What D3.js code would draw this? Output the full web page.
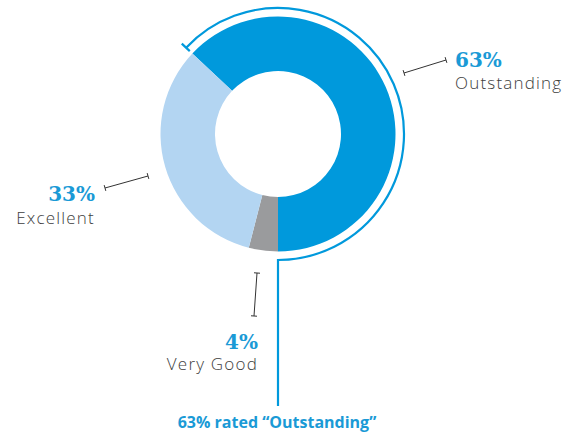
<!DOCTYPE html>
<html><head><meta charset="utf-8">
<script src="https://cdn.jsdelivr.net/npm/d3@7"></script>
<style>body{margin:0;background:#fff}svg{display:block}</style>
</head><body>
<script>
const categories = ["Outstanding", "Very Good", "Excellent"];
const values = [63, 4, 33];
const percentLabels = ["63%", "4%", "33%"];
const colors = ["#0099dc", "#9a9b9d", "#b3d5f2"];
const footnote = "63% rated \u201cOutstanding\u201d";

const W = 575, H = 433, cx = 278, cy = 134, rOuter = 117.5, rInner = 63, rBracket = 126;
const svg = d3.select("body").append("svg").attr("width", W).attr("height", H);
const g = svg.append("g").attr("transform", `translate(${cx},${cy})`);

const share0 = values[0] / d3.sum(values);
const start = Math.PI - share0 * 2 * Math.PI;
const pie = d3.pie().sort(null).value(d => d).startAngle(start).endAngle(start + 2 * Math.PI);
const arcs = pie(values);
const arc = d3.arc().innerRadius(rInner).outerRadius(rOuter);
g.selectAll("path.slice").data(arcs).join("path").attr("class", "slice")
  .attr("d", arc).attr("fill", (d, i) => colors[i]);

// bracket around Outstanding
const a0 = arcs[0].startAngle, a1 = arcs[0].endAngle;
const bp = d3.path();
bp.arc(0, 0, rBracket, a0 - Math.PI / 2, a1 - Math.PI / 2);
bp.lineTo(0, 406 - cy);
g.append("path").attr("d", bp.toString()).attr("fill", "none")
  .attr("stroke", "#0099dc").attr("stroke-width", 2.2);
g.append("line")
  .attr("x1", Math.sin(a0) * (rBracket - 5)).attr("y1", -Math.cos(a0) * (rBracket - 5))
  .attr("x2", Math.sin(a0) * (rBracket + 6)).attr("y2", -Math.cos(a0) * (rBracket + 6))
  .attr("stroke", "#0099dc").attr("stroke-width", 2.2);

// leader lines with end ticks
function leader(x1, y1, x2, y2) {
  const dx = x2 - x1, dy = y2 - y1, L = Math.hypot(dx, dy);
  const nx = -dy / L * 3, ny = dx / L * 3;
  svg.append("line").attr("x1", x1).attr("y1", y1).attr("x2", x2).attr("y2", y2)
    .attr("stroke", "#333").attr("stroke-width", 1);
  [[x1, y1], [x2, y2]].forEach(([x, y]) =>
    svg.append("line").attr("x1", x - nx).attr("y1", y - ny).attr("x2", x + nx).attr("y2", y + ny)
      .attr("stroke", "#333").attr("stroke-width", 1));
}
leader(404, 73, 446, 60);
leader(105, 188, 148, 176);
leader(257, 273, 254, 316);

const labels = [
  {i: 0, x: 455, y1: 67, y2: 89, anchor: "start"},
  {i: 1, x: 258, y1: 349, y2: 370, anchor: "end"},
  {i: 2, x: 95, y1: 201, y2: 224, anchor: "end"}
];
labels.forEach(l => {
  svg.append("text").attr("x", l.x).attr("y", l.y1).attr("text-anchor", l.anchor)
    .attr("font-family", "DejaVu Serif").attr("font-weight", "bold").attr("font-size", 20)
    .attr("fill", "#1a9ad6").text(percentLabels[l.i]);
  svg.append("text").attr("x", l.x).attr("y", l.y2).attr("text-anchor", l.anchor)
    .attr("font-family", "Open Sans").attr("font-weight", 300).attr("font-size", 17)
    .attr("letter-spacing", 1.2)
    .attr("fill", "#3d3d3d").text(categories[l.i]);
});

svg.append("text").attr("x", 277).attr("y", 428).attr("text-anchor", "middle")
  .attr("font-family", "Open Sans").attr("font-weight", "bold").attr("font-size", 16)
  .attr("fill", "#1a9ad6").text(footnote);
</script>
</body></html>
